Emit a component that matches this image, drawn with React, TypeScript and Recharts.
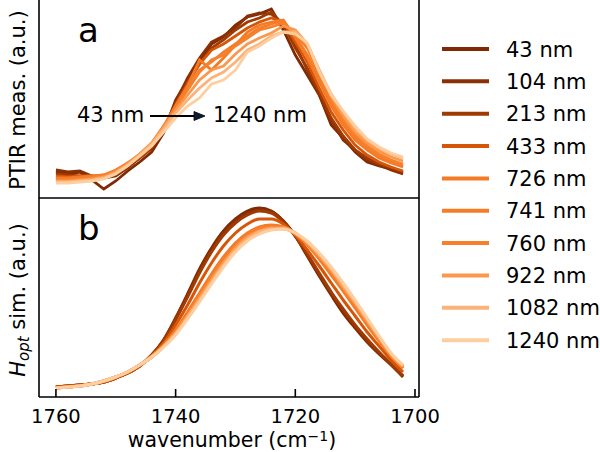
import React from 'react';
import { LineChart, Line, XAxis, YAxis, Legend } from 'recharts';

// wavenumber grid (cm^-1)
const wavenumbers = [1760, 1758, 1756, 1754, 1752, 1750, 1748, 1746, 1744, 1742, 1740, 1738, 1736, 1734, 1732, 1730, 1728, 1726, 1724, 1722, 1720, 1718, 1716, 1714, 1712, 1710, 1708, 1706, 1704, 1702];
const xTicks = [1760, 1740, 1720, 1700];

const thicknessLabels = ['43 nm', '104 nm', '213 nm', '433 nm', '726 nm', '741 nm', '760 nm', '922 nm', '1082 nm', '1240 nm'];
const seriesColors = ['#7f2a04', '#8a3004', '#a03a03', '#d65507', '#f57a25', '#f67d28', '#f7802c', '#fc984c', '#fdb27a', '#fdcfa0'];

// panel a: PTIR measured (a.u.)
const meas43 = [26, 24, 26, 18, 9, 17, 27, 36, 46, 65, 98, 118, 136, 154, 161, 173, 181, 184, 189, 168, 143, 123, 103, 73, 60, 46, 36, 32, 29, 25];
const meas104 = [28, 26, 27, 22, 20, 22, 30, 40, 50, 68, 96, 120, 140, 156, 162, 170, 182, 185, 184, 174, 153, 128, 103, 78, 58, 48, 38, 33, 28, 24];
const meas213 = [24, 23, 22, 21, 21, 24, 32, 40, 50, 70, 94, 116, 134, 150, 158, 168, 176, 180, 186, 173, 150, 130, 106, 80, 62, 48, 40, 34, 30, 26];
const meas433 = [22, 21, 22, 22, 22, 26, 33, 41, 52, 70, 93, 114, 134, 148, 154, 162, 170, 176, 180, 176, 156, 136, 110, 86, 68, 53, 43, 36, 31, 27];
const meas726 = [20, 20, 21, 22, 23, 27, 34, 42, 53, 71, 92, 112, 138, 128, 140, 153, 166, 173, 176, 178, 160, 140, 116, 92, 73, 58, 48, 40, 35, 31];
const meas741 = [19, 19, 20, 21, 23, 28, 35, 43, 54, 72, 91, 110, 128, 136, 146, 154, 162, 170, 174, 177, 162, 143, 120, 96, 76, 60, 50, 42, 36, 32];
const meas760 = [18, 18, 19, 20, 22, 27, 35, 44, 55, 72, 90, 108, 126, 138, 143, 152, 160, 168, 171, 175, 164, 150, 124, 98, 78, 63, 52, 44, 38, 34];
const meas922 = [17, 17, 18, 19, 21, 26, 34, 44, 55, 71, 88, 103, 118, 128, 132, 144, 154, 160, 165, 172, 168, 154, 128, 102, 82, 66, 55, 47, 41, 37];
const meas1082 = [16, 16, 17, 18, 20, 25, 33, 43, 54, 69, 85, 98, 110, 120, 126, 136, 148, 154, 162, 166, 166, 154, 128, 104, 86, 70, 58, 50, 44, 40];
const meas1240 = [15, 15, 16, 17, 19, 24, 32, 42, 52, 66, 80, 92, 100, 114, 118, 128, 146, 152, 160, 166, 164, 155, 126, 103, 87, 72, 59, 51, 45, 41];

// panel b: H_opt simulated (a.u.)
const sim43 = [10, 11, 12, 13, 15, 19, 24, 31, 42, 57, 79, 103, 128, 149, 166, 178, 186, 189, 186, 176, 161, 141, 121, 102, 84, 69, 55, 43, 32, 20];
const sim104 = [10, 11, 12, 13, 15, 19, 24, 31, 42, 57, 78, 102, 126, 147, 164, 176, 184, 187, 185, 176, 161, 142, 122, 104, 86, 71, 56, 44, 33, 21];
const sim213 = [10, 11, 12, 13, 15, 19, 24, 31, 42, 56, 77, 100, 124, 145, 162, 174, 182, 186, 184, 175, 161, 143, 124, 105, 88, 72, 58, 45, 33, 21];
const sim433 = [10, 11, 12, 13, 15, 19, 24, 31, 41, 54, 72, 92, 114, 134, 151, 164, 173, 178, 178, 173, 162, 147, 131, 114, 97, 81, 65, 51, 37, 25];
const sim726 = [9, 10, 11, 13, 16, 20, 25, 32, 41, 52, 67, 85, 104, 123, 140, 154, 164, 170, 172, 170, 163, 152, 138, 122, 106, 89, 72, 56, 41, 29];
const sim741 = [9, 10, 11, 13, 16, 20, 25, 32, 40, 51, 66, 83, 102, 121, 138, 152, 163, 169, 171, 170, 163, 153, 139, 124, 107, 91, 74, 57, 41, 29];
const sim760 = [9, 10, 11, 13, 16, 20, 25, 32, 40, 51, 65, 82, 101, 120, 136, 151, 161, 168, 170, 169, 164, 153, 140, 125, 109, 92, 75, 58, 42, 30];
const sim922 = [9, 10, 11, 13, 16, 20, 25, 32, 40, 51, 64, 81, 99, 117, 134, 149, 160, 166, 169, 169, 164, 154, 141, 127, 110, 94, 76, 59, 43, 31];
const sim1082 = [9, 10, 11, 13, 16, 20, 25, 32, 40, 50, 63, 80, 97, 115, 132, 147, 158, 165, 168, 168, 164, 155, 143, 128, 112, 95, 78, 60, 43, 31];
const sim1240 = [9, 10, 11, 13, 16, 20, 25, 32, 40, 50, 62, 78, 95, 113, 130, 145, 156, 163, 167, 168, 164, 156, 144, 130, 114, 97, 79, 61, 44, 32];

const measuredSeries = [meas43, meas104, meas213, meas433, meas726, meas741, meas760, meas922, meas1082, meas1240];
const simulatedSeries = [sim43, sim104, sim213, sim433, sim726, sim741, sim760, sim922, sim1082, sim1240];
const keys = thicknessLabels.map((_, i) => 's' + i);

const buildRows = (series: number[][]) =>
  wavenumbers.map((w, i) => {
    const row: Record<string, number> = { w };
    keys.forEach((k, j) => {
      row[k] = series[j][i];
    });
    return row;
  });

const measuredRows = buildRows(measuredSeries);
const simulatedRows = buildRows(simulatedSeries);

const FONT = 'DejaVu Sans';
const X_DOMAIN: [number, number] = [1699.33, 1762.83];
const axisStroke = { stroke: '#000', strokeWidth: 1.6 };

const LegendContent = (props: any) => {
  const payload = [...(props.payload || [])].sort(
    (a: any, b: any) => thicknessLabels.indexOf(a.value) - thicknessLabels.indexOf(b.value)
  );
  return (
    <svg width={164} height={330} style={{ overflow: 'visible' }}>
      {payload.map((p: any, i: number) => {
        const cy = 19 + i * 32.35;
        return (
          <g key={i}>
            <line x1={6} x2={53} y1={cy} y2={cy} stroke={p.color} strokeWidth={4} />
            <text x={70} y={cy + 7.5} fontFamily={FONT} fontSize={21} fill="#000">
              {p.value}
            </text>
          </g>
        );
      })}
    </svg>
  );
};

export default function App() {
  return (
    <div style={{ position: 'absolute', left: 0, top: 0, width: 600, height: 452, background: '#fff', fontFamily: FONT }}>
      <div style={{ position: 'absolute', left: 0, top: 0 }}>
        <LineChart width={600} height={200} data={measuredRows} margin={{ top: 0, right: 180, bottom: 0, left: 38 }}>
          <XAxis
            dataKey="w"
            type="number"
            domain={X_DOMAIN}
            reversed
            allowDataOverflow
            ticks={xTicks}
            height={2}
            tick={false}
            tickSize={-8}
            tickLine={axisStroke}
            axisLine={axisStroke}
          />
          <YAxis yAxisId="l" domain={[0, 198]} width={1} tick={false} tickLine={false} axisLine={axisStroke} allowDataOverflow />
          <YAxis yAxisId="r" orientation="right" domain={[0, 198]} width={1} tick={false} tickLine={false} axisLine={axisStroke} allowDataOverflow />
          {keys.map((k, i) => (
            <Line
              key={k}
              yAxisId="l"
              dataKey={k}
              name={thicknessLabels[i]}
              type="linear"
              stroke={seriesColors[i]}
              strokeWidth={2.8}
              dot={false}
              isAnimationActive={false}
            />
          ))}
          <Legend
            layout="vertical"
            align="center"
            verticalAlign="middle"
            content={<LegendContent />}
            wrapperStyle={{ position: 'absolute', left: 436, top: 30, width: 164, height: 330 }}
          />
        </LineChart>
      </div>
      <div style={{ position: 'absolute', left: 0, top: 198 }}>
        <LineChart width={600} height={254} data={simulatedRows} margin={{ top: 0, right: 180, bottom: 0, left: 38 }}>
          <XAxis
            dataKey="w"
            type="number"
            domain={X_DOMAIN}
            reversed
            allowDataOverflow
            ticks={xTicks}
            height={55}
            tickSize={-8}
            tickMargin={20}
            tick={{ fontFamily: FONT, fontSize: 19.5, fill: '#000' }}
            tickLine={axisStroke}
            axisLine={axisStroke}
          />
          <YAxis yAxisId="l" domain={[0, 199]} width={1} tick={false} tickLine={false} axisLine={axisStroke} allowDataOverflow />
          <YAxis yAxisId="r" orientation="right" domain={[0, 199]} width={1} tick={false} tickLine={false} axisLine={axisStroke} allowDataOverflow />
          {keys.map((k, i) => (
            <Line
              key={k}
              yAxisId="l"
              dataKey={k}
              name={thicknessLabels[i]}
              type="monotone"
              stroke={seriesColors[i]}
              strokeWidth={3}
              dot={false}
              isAnimationActive={false}
            />
          ))}
        </LineChart>
      </div>
      <svg width={600} height={452} style={{ position: 'absolute', left: 0, top: 0, pointerEvents: 'none' }}>
        <text transform="translate(25,100) rotate(-90)" textAnchor="middle" fontFamily={FONT} fontSize={21} fill="#000">
          PTIR meas. (a.u.)
        </text>
        <text transform="translate(25,300) rotate(-90)" textAnchor="middle" fontFamily={FONT} fontSize={21} fill="#000">
          <tspan fontStyle="italic">H</tspan>
          <tspan fontStyle="italic" fontSize={15} dy={4}>opt</tspan>
          <tspan dy={-4}> sim. (a.u.)</tspan>
        </text>
        <text x={78} y={42} fontFamily={FONT} fontSize={34} fill="#000">a</text>
        <text x={78} y={240} fontFamily={FONT} fontSize={34} fill="#000">b</text>
        <text x={77} y={122} fontFamily={FONT} fontSize={21} fill="#000">43 nm</text>
        <line x1={150} x2={196} y1={116} y2={116} stroke="#000" strokeWidth={2} />
        <polygon points="194,111.5 205,116 194,120.5" fill="#0b1f33" stroke="#000" strokeWidth={0.8} />
        <text x={213} y={122} fontFamily={FONT} fontSize={21} fill="#000">1240 nm</text>
        <text x={232} y={447} textAnchor="middle" fontFamily={FONT} fontSize={20.5} fill="#000">
          wavenumber (cm
          <tspan fontSize={14} dy={-6}>−1</tspan>
          <tspan dy={6}>)</tspan>
        </text>
      </svg>
    </div>
  );
}
